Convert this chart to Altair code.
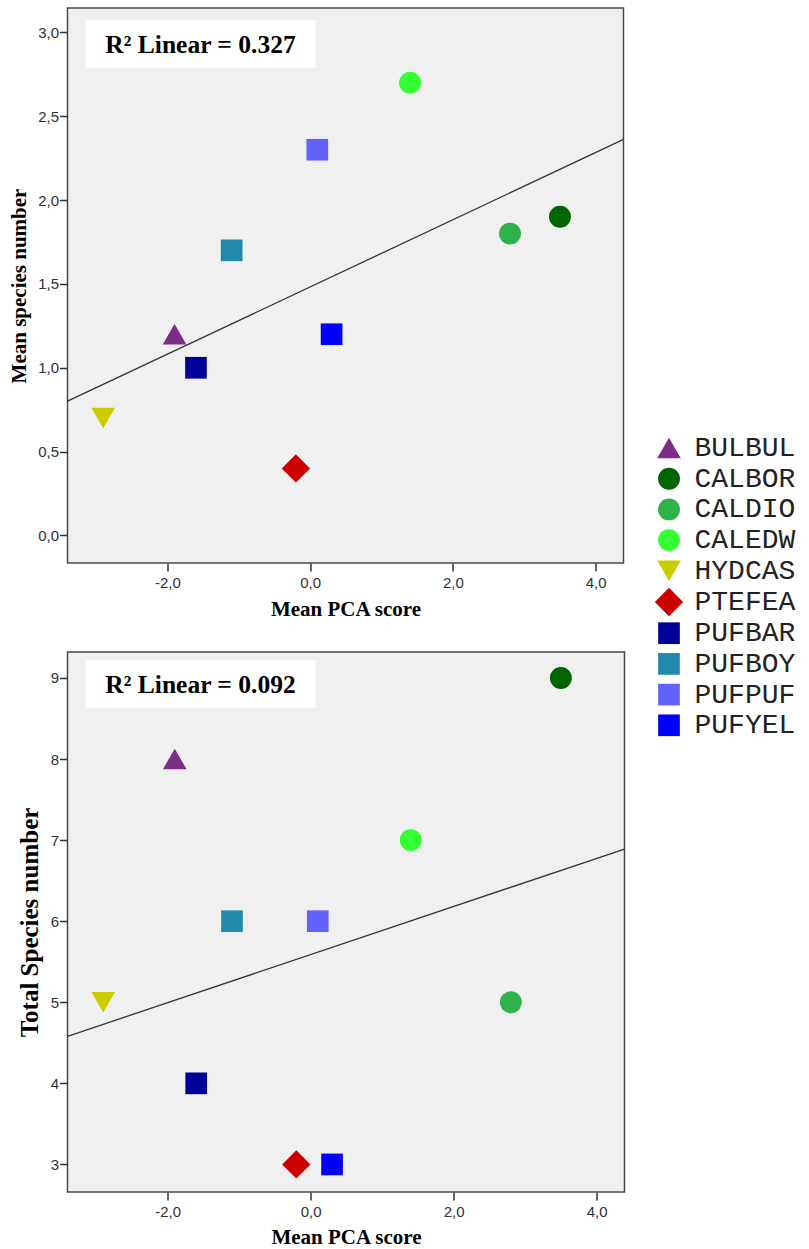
import altair as alt
import pandas as pd

# ---- data ----
species = ["BULBUL", "CALBOR", "CALDIO", "CALEDW", "HYDCAS",
           "PTEFEA", "PUFBAR", "PUFBOY", "PUFPUF", "PUFYEL"]
pca_score = [-1.9, 3.5, 2.8, 1.4, -2.9, -0.2, -1.6, -1.1, 0.1, 0.3]
mean_species = [1.2, 1.9, 1.8, 2.7, 0.7, 0.4, 1.0, 1.7, 2.3, 1.2]
total_species = [8, 9, 5, 7, 5, 3, 4, 6, 6, 3]

colors = ["#7B2D87", "#006400", "#2DB34A", "#33FF33", "#CCCC00",
          "#CC0000", "#000099", "#2389AB", "#6262FF", "#0000FF"]
shapes = ["triangle-up", "circle", "circle", "circle", "triangle-down",
          "diamond", "square", "square", "square", "square"]
marker_sizes = [560, 480, 480, 480, 560, 800, 470, 470, 470, 470]

x_ticks = [-2, 0, 2, 4]
x_domain = [-3.4, 4.39]
top_y_ticks = [0, 0.5, 1, 1.5, 2, 2.5, 3]
top_y_domain = [-0.164, 3.145]
bottom_y_ticks = [3, 4, 5, 6, 7, 8, 9]
bottom_y_domain = [2.66, 9.32]
r2_labels = ["R² Linear = 0.327", "R² Linear = 0.092"]

df = pd.DataFrame({
    "species": species,
    "pca": pca_score,
    "mean_sp": mean_species,
    "total_sp": total_species,
})

MINUS = "\u2212"
x_label_expr = f"replace(replace(format(datum.value, '.1f'), '.', ','), '{MINUS}', '-')"
y1_label_expr = "replace(format(datum.value, '.1f'), '.', ',')"

legend_kw = dict(
    title=None, orient="none", legendX=587, legendY=426,
    symbolSize=650, symbolStrokeWidth=0,
    labelFont="Liberation Mono", labelFontSize=28, labelColor="#222222",
    labelOffset=11, rowPadding=2.7,
)
color_enc = alt.Color("species:N", scale=alt.Scale(domain=species, range=colors),
                      legend=alt.Legend(**legend_kw))
shape_enc = alt.Shape("species:N", scale=alt.Scale(domain=species, range=shapes),
                      legend=alt.Legend(**legend_kw))
size_enc = alt.Size("species:N",
                    scale=alt.Scale(type="ordinal", domain=species, range=marker_sizes),
                    legend=None)


def panel(ycol, ytitle, yticks, ydomain, ylabel_expr, ytitle_size, ytitle_kw,
          r2, w, h, box_y, text_y, x_title_pad):
    x = alt.X("pca:Q", scale=alt.Scale(domain=x_domain, nice=False, zero=False),
              axis=alt.Axis(values=x_ticks, title="Mean PCA score",
                            labelExpr=x_label_expr, labelPadding=4,
                            titlePadding=x_title_pad))
    y = alt.Y(f"{ycol}:Q", scale=alt.Scale(domain=ydomain, nice=False, zero=False),
              axis=alt.Axis(values=yticks, title=ytitle, labelExpr=ylabel_expr,
                            labelPadding=1, titleFontSize=ytitle_size, **ytitle_kw))
    base = alt.Chart(df)
    line = base.transform_regression("pca", ycol, extent=x_domain).mark_line(
        color="#333333", strokeWidth=1.3, clip=True
    ).encode(x=alt.X("pca:Q"), y=alt.Y(f"{ycol}:Q"))
    points = base.mark_point(filled=True, opacity=1).encode(
        x=x, y=y, color=color_enc, shape=shape_enc, size=size_enc
    )
    lab = alt.Chart(pd.DataFrame({"label": [r2]}))
    box = lab.mark_rect(color="white").encode(
        x=alt.value(18), x2=alt.value(248), y=alt.value(box_y), y2=alt.value(box_y + 48)
    )
    txt = lab.mark_text(font="Liberation Serif", fontWeight="bold", fontSize=25.5,
                        color="black").encode(
        x=alt.value(133), y=alt.value(text_y), text="label:N"
    )
    return alt.layer(points, line, box, txt).properties(width=w, height=h)


top = panel("mean_sp", "Mean species number", top_y_ticks, top_y_domain,
            y1_label_expr, 21, {"titlePadding": 8}, r2_labels[0], 556, 555, 12, 37, 8)
bottom = panel("total_sp", "Total Species number", bottom_y_ticks, bottom_y_domain,
               "datum.value", 25, {"titleX": -25}, r2_labels[1], 557, 540, 8, 33, 7)

chart = alt.vconcat(top, bottom, spacing=31).properties(
    padding={"left": 7.5, "top": 7, "right": 5, "bottom": 0},
    background="white",
).configure_view(
    fill="#F0F0F0", stroke="#4A4A4A", strokeWidth=1.5
).configure_axis(
    grid=False, domain=False, tickColor="#333333", tickSize=8, tickWidth=1.5,
    labelFont="Liberation Sans", labelFontSize=15, labelColor="#333333",
    titleFont="Liberation Serif", titleFontWeight="bold", titleFontSize=21,
    titleColor="black",
)

chart.save("out.html", embed_options={"renderer": "svg", "actions": False})
